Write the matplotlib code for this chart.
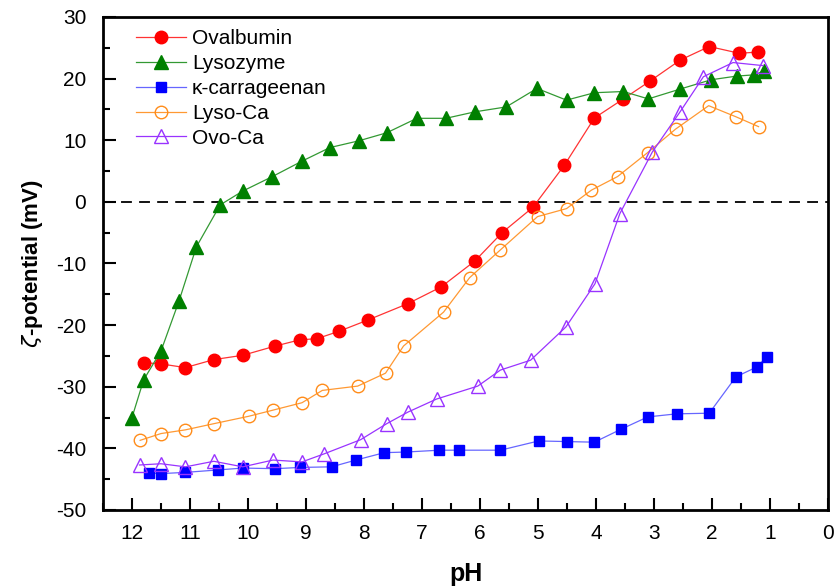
import numpy as np
import matplotlib.pyplot as plt
from matplotlib.ticker import MultipleLocator

plt.rcParams['font.family'] = ['Liberation Sans', 'DejaVu Sans']
plt.rcParams['axes.unicode_minus'] = False

# zeta potential vs pH
ph_ova = [11.80, 11.50, 11.08, 10.59, 10.09, 9.53, 9.11, 8.81, 8.43, 7.94, 7.24, 6.67,
          6.09, 5.62, 5.09, 4.55, 4.03, 3.53, 3.07, 2.55, 2.05, 1.53, 1.21]
z_ova = [-26.1, -26.3, -26.9, -25.6, -24.9, -23.4, -22.4, -22.2, -21.0, -19.2, -16.5, -13.8,
         -9.6, -5.0, -0.9, 5.9, 13.6, 16.7, 19.6, 23.0, 25.2, 24.1, 24.3]

ph_lys = [12.0, 11.80, 11.50, 11.19, 10.89, 10.48, 10.09, 9.58, 9.07, 8.59, 8.09, 7.61, 7.09,
          6.59, 6.09, 5.55, 5.02, 4.51, 4.03, 3.53, 3.10, 2.55, 2.02, 1.58, 1.28, 1.11]
z_lys = [-35.0, -28.9, -24.2, -16.1, -7.3, -0.5, 1.75, 4.1, 6.6, 8.8, 9.9, 11.2, 13.55,
         13.55, 14.6, 15.4, 18.4, 16.5, 17.7, 17.9, 16.7, 18.3, 19.8, 20.4, 20.6, 21.2]

ph_kc = [11.70, 11.50, 11.08, 10.51, 10.09, 9.53, 9.11, 8.56, 8.14, 7.65, 7.28, 6.70, 6.36,
         5.65, 4.99, 4.51, 4.03, 3.57, 3.11, 2.61, 2.05, 1.59, 1.23, 1.05]
z_kc = [-44.0, -44.1, -43.9, -43.5, -43.2, -43.3, -43.1, -43.0, -41.9, -40.7, -40.6, -40.3,
        -40.3, -40.3, -38.8, -38.9, -39.0, -36.9, -34.9, -34.4, -34.3, -28.4, -26.8, -25.1]

ph_lysca = [11.86, 11.50, 11.08, 10.59, 9.99, 9.57, 9.07, 8.72, 8.11, 7.63, 7.32, 6.63,
            6.18, 5.65, 5.01, 4.51, 4.08, 3.63, 3.11, 2.63, 2.06, 1.59, 1.20]
z_lysca = [-38.7, -37.6, -37.0, -36.0, -34.8, -33.8, -32.6, -30.6, -29.9, -27.8, -23.4, -17.9,
           -12.3, -7.8, -2.4, -1.1, 1.9, 4.1, 8.0, 11.8, 15.6, 13.8, 12.2]

ph_ovoca = [11.87, 11.50, 11.08, 10.59, 10.09, 9.57, 9.07, 8.69, 8.06, 7.61, 7.24, 6.75,
            6.04, 5.65, 5.13, 4.52, 4.02, 3.59, 3.03, 2.56, 2.15, 1.64, 1.12]
z_ovoca = [-42.7, -42.5, -43.0, -42.1, -43.0, -41.9, -42.2, -40.9, -38.6, -36.0, -34.1, -32.0,
           -29.9, -27.3, -25.7, -20.3, -13.3, -1.9, 8.1, 14.5, 20.3, 22.6, 22.1]

fig = plt.figure(figsize=(8.34, 5.88), dpi=100)
ax = fig.add_axes([0.1235, 0.1327, 0.8695, 0.8385])

ax.axhline(0, color='black', ls=(0, (6, 4)), lw=1.3, zorder=1)

ax.plot(ph_ova, z_ova, '-o', color='#ff3333', mfc='red', mec='red', ms=9, lw=0.9,
        label='Ovalbumin')
ax.plot(ph_lys, z_lys, '-^', color='#339933', mfc='green', mec='green', ms=10, lw=0.9,
        label='Lysozyme')
ax.plot(ph_kc, z_kc, '-s', color='#6666ff', mfc='blue', mec='blue', ms=7.5, lw=0.9,
        label='\u03ba-carrageenan')
ax.plot(ph_lysca, z_lysca, '-o', color='#ff9933', mfc='none', mec='#ff8c1a', ms=9, lw=0.9,
        mew=1.0, label='Lyso-Ca')
ax.plot(ph_ovoca, z_ovoca, '-^', color='#9933ff', mfc='none', mec='#9933ff', ms=10, lw=0.9,
        mew=1.0, label='Ovo-Ca')

ax.set_xlim(12.5, 0)
ax.set_ylim(-50, 30)
ax.xaxis.set_major_locator(MultipleLocator(1))
ax.xaxis.set_minor_locator(MultipleLocator(0.5))
ax.yaxis.set_major_locator(MultipleLocator(10))
ax.yaxis.set_minor_locator(MultipleLocator(5))
ax.tick_params(which='both', direction='in', width=1.5, labelsize=15)
ax.tick_params(which='major', length=9)
ax.tick_params(which='minor', length=5)
ax.tick_params(axis='x', pad=10)
ax.tick_params(axis='y', pad=12)
for sp in ax.spines.values():
    sp.set_linewidth(2)

ax.set_xlabel('pH', fontsize=18, fontweight='bold', labelpad=14)
ax.set_ylabel(r'$\zeta$-potential (mV)', fontsize=16, fontweight='bold', labelpad=8)

ax.legend(loc='upper left', frameon=False, fontsize=15, handlelength=2.4,
          handletextpad=0.3, borderaxespad=0.2, labelspacing=0.28,
          bbox_to_anchor=(0.028, 1.0))

fig.savefig('out.png', dpi=100)
